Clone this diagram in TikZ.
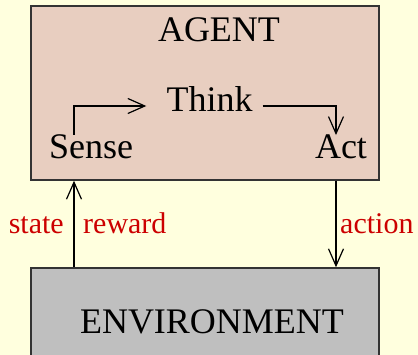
\documentclass[tikz,border=0pt]{standalone}
\usepackage{fontspec}
\setmainfont{Liberation Serif}
\usetikzlibrary{arrows.meta}
\definecolor{bgyellow}{RGB}{255,255,222}
\definecolor{agentfill}{RGB}{232,206,192}
\definecolor{envfill}{RGB}{191,191,191}
\definecolor{labelred}{RGB}{204,0,0}
\tikzset{
  box/.style={draw=black!80, line width=1.5pt, rectangle},
  flow/.style={black, line width=1.2pt, -{Straight Barb[length=17pt,width=15pt,line width=1.2pt]}},
  big/.style={font=\fontsize{36}{40}\selectfont},
  sig/.style={font=\fontsize{30}{34}\selectfont, text=labelred},
}

\begin{document}
\begin{tikzpicture}[x=1pt,y=1pt]
		\tikzstyle{every node}+=[inner sep=0pt]
		\fill [bgyellow] (0,0) rectangle (418,-355);
		\useasboundingbox (0,0) rectangle (418,-355);
		\node [box, fill=agentfill, minimum width=348pt, minimum height=174pt] (agent) at (205,-93) {};
		\node [box, fill=envfill, minimum width=348pt, minimum height=94pt] (env) at (205,-315) {};
		\node [big, anchor=base] (agentlbl) at (219,-42) {AGENT};
		\node [big, anchor=base] (think) at (209.5,-112) {Think};
		\node [big, anchor=base] (sense) at (91,-159) {Sense};
		\node [big, anchor=base] (act) at (341,-159) {Act};
		\node [big, anchor=base] (envlbl) at (212,-334) {ENVIRONMENT};
		\coordinate (sensein) at ([xshift=-17pt]sense.north);
		\coordinate (actin) at ([xshift=-5pt]act.north);
		\draw [flow] (sensein) |- ([shift={(-20pt,6pt)}]think.base west);
		\draw [flow] ([shift={(10pt,6pt)}]think.base east) -| (actin);
		\draw [flow] (env.north -| sensein) -- (agent.south -| sensein);
		\draw [flow] (agent.south -| actin) -- (env.north -| actin);
		\node [sig, anchor=base east] (state) at (64,-234) {state};
		\node [sig, anchor=base west] (reward) at (83,-234) {reward};
		\node [sig, anchor=base west] (action) at (340,-234) {action};
\end{tikzpicture}
\end{document}
